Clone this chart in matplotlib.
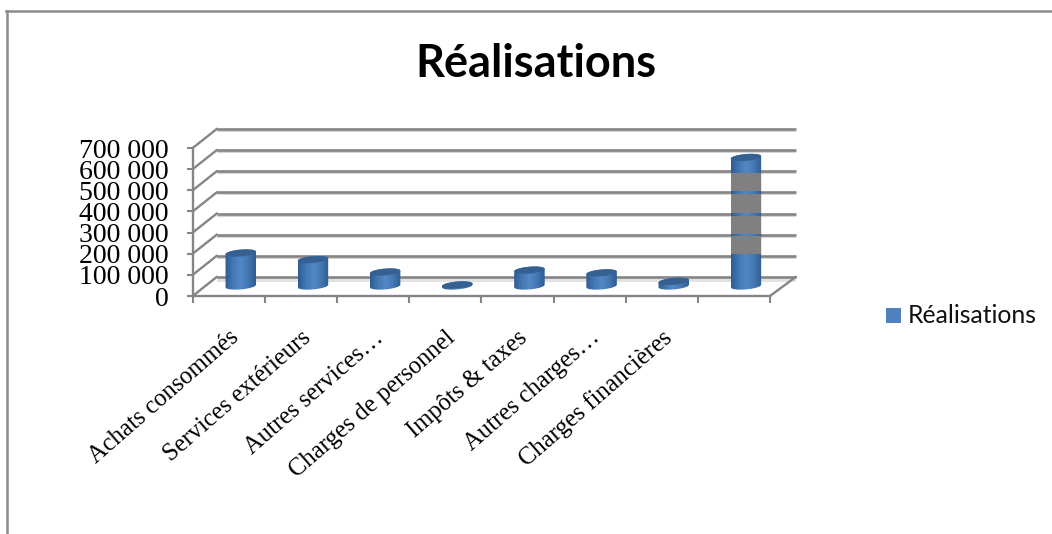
import numpy as np
import matplotlib
matplotlib.use("Agg")
import matplotlib.pyplot as plt
from matplotlib.colors import LinearSegmentedColormap
from matplotlib.lines import Line2D
from matplotlib.patches import Polygon, Rectangle
from matplotlib.transforms import ScaledTranslation

categories = ["Achats consommés", "Services extérieurs", "Autres services…",
              "Charges de personnel", "Impôts & taxes", "Autres charges…",
              "Charges financières", ""]
realisations = [156000, 125000, 66000, 5000, 75000, 62000, 22000, 608000]
yticks = [0, 100000, 200000, 300000, 400000, 500000, 600000, 700000]
yticklabels = ["0", "100 000", "200 000", "300 000", "400 000", "500 000", "600 000", "700 000"]
# grey stripes crossing the last column
band_low = [198600, 293000, 394000, 496600]
band_high = [285000, 378000, 482000, 583000]

W, H = 1052, 534
GREY = "#858585"
BLUE = "#4f81bd"

fig = plt.figure(figsize=(W / 100, H / 100), dpi=100)
ax = fig.add_axes([192.7 / W, 1 - 296 / H, 577.3 / W, 148 / H])
ax.patch.set_visible(False)

# px to data units
px_x = 8 / 577.3
px_y = 700000 / 148
depth_x = 24 * px_x
depth_y = 19 * px_y
right_x = 8 + 25.7 * px_x

# back wall and left side
for v in yticks:
    ax.plot([depth_x, right_x], [v + depth_y - 2 * px_y] * 2, color="#d4d4d4", lw=1.4,
            clip_on=False, zorder=1, solid_capstyle="butt")
    ax.plot([depth_x, right_x], [v + depth_y] * 2, color=GREY, lw=1.9,
            clip_on=False, zorder=2, solid_capstyle="butt")
    ax.plot([0, depth_x], [v, v + depth_y], color=GREY, lw=1.7, clip_on=False, zorder=2)

# floor
ax.add_patch(Rectangle((depth_x, depth_y - 5 * px_y), right_x - depth_x, 4.5 * px_y,
                       color="#e2e2e2", lw=0, clip_on=False, zorder=1))
ax.plot([8, right_x], [0, depth_y], color=GREY, lw=1.7, clip_on=False, zorder=2)

cyl_cmap = LinearSegmentedColormap.from_list("cyl", ["#2f5c92", "#4478b4", "#5288c6", "#4478b4", "#2f5c92"])
grad = np.linspace(0, 1, 64).reshape(1, -1)


def ellipse(cx, cy, t):
    a, b, tilt = 15.3, 3.4, np.radians(5)
    ex = a * np.cos(t) * np.cos(tilt) - b * np.sin(t) * np.sin(tilt)
    ey = a * np.cos(t) * np.sin(tilt) + b * np.sin(t) * np.cos(tilt)
    return np.column_stack([cx + ex * px_x, cy + ey * px_y])


base = depth_y / 2 + 0.5 * px_y
half = 15.3 * px_x
for i, v in enumerate(realisations):
    cx = i + 0.5 + depth_x / 2
    low = ellipse(cx, base, np.linspace(np.pi, 2 * np.pi, 60))
    high = ellipse(cx, base + v, np.linspace(0, np.pi, 60))
    outline = Polygon(np.vstack([low, high]), closed=True, transform=ax.transData,
                      fc="none", ec="none")
    ax.add_patch(outline)
    im = ax.imshow(grad, cmap=cyl_cmap, aspect="auto", zorder=3, interpolation="bilinear",
                   extent=[cx - half, cx + half, 0, base + v + 5 * px_y])
    im.set_clip_path(outline)
    ax.add_patch(Polygon(ellipse(cx, base + v, np.linspace(0, 2 * np.pi, 80)), closed=True,
                         fc="#366092", ec="none", clip_on=False, zorder=4))

# stripes over the tallest column
cx_last = 7.5 + depth_x / 2
for lo, hi in zip(band_low, band_high):
    ax.add_patch(Rectangle((cx_last - half, lo), 2 * half, hi - lo, color="#808080", lw=0, zorder=5))

ax.set_xlim(0, 8)
ax.set_ylim(0, 700000)
ax.set_yticks(yticks)
ax.set_yticklabels(yticklabels, family="Liberation Serif", fontsize=20)
ax.set_xticks(np.arange(0, 9), minor=True)
ax.set_xticks(np.arange(8) + 0.5)
ax.set_xticklabels(categories, family="Liberation Serif", fontsize=17.7, rotation=41,
                   ha="right", rotation_mode="anchor")
shift = ScaledTranslation(-5 / 100, 0, fig.dpi_scale_trans)
for lab in ax.get_xticklabels():
    lab.set_transform(lab.get_transform() + shift)
ax.tick_params(axis="x", which="major", length=0, pad=22)
ax.tick_params(axis="x", which="minor", length=5, width=1.5, color=GREY)
ax.tick_params(axis="y", length=4.5, width=1.5, color=GREY, pad=13)
for s in ["top", "right"]:
    ax.spines[s].set_visible(False)
for s in ["left", "bottom"]:
    ax.spines[s].set_color(GREY)
    ax.spines[s].set_linewidth(1.7)
    ax.spines[s].set_zorder(2.5)

fig.text(535.5 / W, 1 - 64 / H, "Réalisations", family="Lato", fontweight="bold",
         fontsize=32.5, ha="center", va="center")

# legend
fig.patches.append(Rectangle((886 / W, 1 - 323 / H), 15 / W, 15 / H, transform=fig.transFigure,
                             fc=BLUE, ec="none"))
fig.text(908 / W, 1 - 315.5 / H, "Réalisations", family="Lato", fontsize=17.8, va="center",
         color="#111111")

# chart frame, open on the right and bottom
fig.add_artist(Line2D([7 / W, 7 / W], [0, 1 - 11 / H], color="#8c8c8c", lw=1.8))
fig.add_artist(Line2D([6 / W, 1], [1 - 11 / H, 1 - 11 / H], color="#8c8c8c", lw=1.8))

fig.savefig("out.png", dpi=100)
